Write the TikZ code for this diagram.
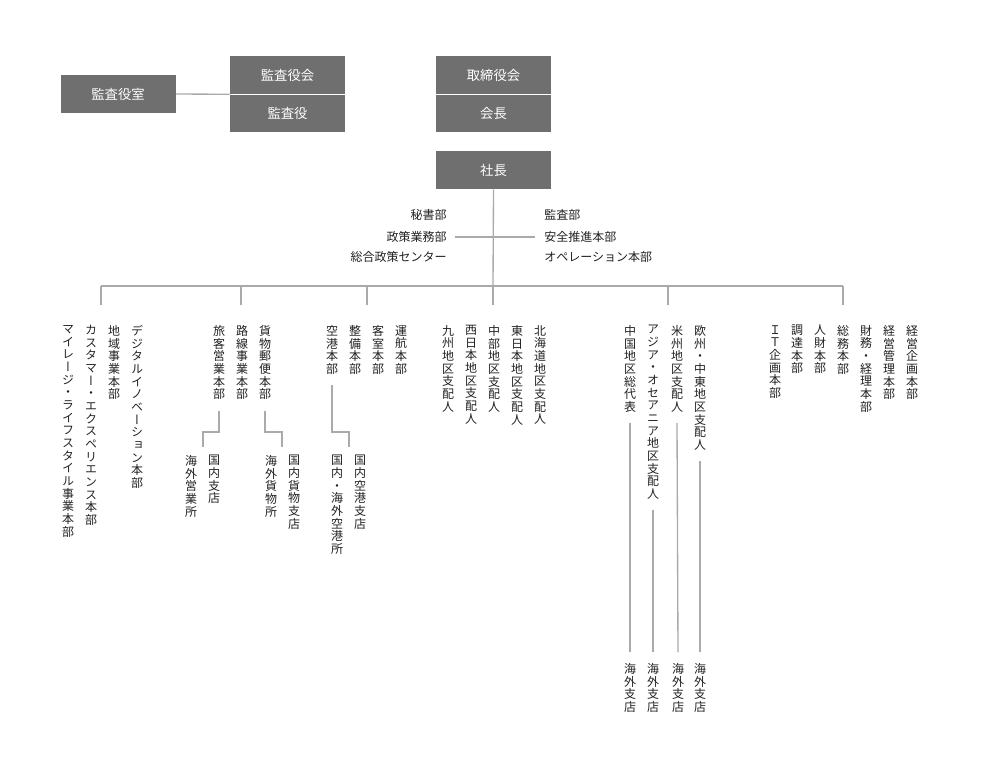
\documentclass[tikz,border=0pt]{standalone}
\usepackage{fontspec}
\newfontfamily\cjk{Noto Sans CJK JP}
\newfontfamily\cjkv{Noto Sans CJK JP}[RawFeature=+vert]
\def\vt#1{\vtA#1\vtend}
\def\vtA#1{\ifx#1\vtend\else#1\expandafter\vtB\fi}
\def\vtB#1{\ifx#1\vtend\else\\#1\expandafter\vtB\fi}
\definecolor{boxg}{HTML}{6F6F6F}
\definecolor{lineg}{HTML}{AAAAAA}
\definecolor{txt}{HTML}{222222}
\tikzset{
 gbox/.style={fill=boxg,text=white,minimum width=86.25pt,minimum height=28.5pt,inner sep=0pt,font=\cjk\fontsize{10}{12}\selectfont},
 vnode/.style={anchor=north,inner sep=0pt,align=center,text=txt,font=\cjkv\fontsize{9}{9.5}\selectfont},
 hl/.style={text=txt,inner sep=0pt,font=\cjk\fontsize{9}{10}\selectfont},
 conn/.style={draw=lineg,line width=1pt},
 sep/.style={draw=white,line width=0.8pt}
}
\begin{document}
\begin{tikzpicture}[x=0.75pt,y=-0.75pt]
\useasboundingbox (0,0) rectangle (988,772);
\fill[white] (0,0) rectangle (988,772);
% boxes
\node[gbox] (shitsu) at (118,94) {監査役室};
\node[gbox] (kansakai) at (287.5,75) {監査役会};
\node[gbox] (kansayaku) at (287.5,113) {監査役};
\node[gbox] (torishimari) at (493.5,75) {取締役会};
\node[gbox] (kaicho) at (493.5,113) {会長};
\node[gbox] (shacho) at (493.5,170) {社長};
\draw[sep] (kansakai.south west) -- (kansakai.south east);
\draw[sep] (torishimari.south west) -- (torishimari.south east);
\draw[conn] (shitsu.east) -- (kansakai.south west);
% staff
\coordinate (bus) at (493,286);
\draw[conn] (shacho.south) -- (bus);
\coordinate (sl) at (455,237); \coordinate (sr) at (535,237);
\draw[conn] (sl) -- (sr);
\node[hl,anchor=east] (hisho) at (447,215) {秘書部};
\node[hl,anchor=east] (seisaku) at (447,237) {政策業務部};
\node[hl,anchor=east] (sogo) at (447,257) {総合政策センター};
\node[hl,anchor=west] (kansabu) at (544,215) {監査部};
\node[hl,anchor=west] (anzen) at (544,237) {安全推進本部};
\node[hl,anchor=west] (ope) at (544,257) {オペレーション本部};
% bus
\coordinate (b1) at (101,286); \coordinate (b6) at (843,286);
\draw[conn] (b1) -- (b6);
\foreach \x/\n in {101/d1,241/d2,367/d3,493/d4,668/d5,843/d6}{
  \coordinate (\n) at (\x,305);
  \draw[conn] (\x,286) -- (\n);
}
% vertical texts
\def\ty{325}
\node[vnode] (v1) at (68,\ty) {\vt{マイレージ・ライフスタイル事業本部}};
\node[vnode] (v2) at (91,\ty) {\vt{カスタマー・エクスペリエンス本部}};
\node[vnode] (v3) at (114,\ty) {\vt{地域事業本部}};
\node[vnode] (v4) at (137,\ty) {\vt{デジタルイノベーション本部}};
\node[vnode] (ryokaku) at (219,\ty) {\vt{旅客営業本部}};
\node[vnode] (v6) at (242,\ty) {\vt{路線事業本部}};
\node[vnode] (kamotsu) at (265,\ty) {\vt{貨物郵便本部}};
\node[vnode] (kuko) at (332,\ty) {\vt{空港本部}};
\node[vnode] (v9) at (355,\ty) {\vt{整備本部}};
\node[vnode] (v10) at (378,\ty) {\vt{客室本部}};
\node[vnode] (v11) at (401,\ty) {\vt{運航本部}};
\node[vnode] (v12) at (448,\ty) {\vt{九州地区支配人}};
\node[vnode] (v13) at (471,\ty) {\vt{西日本地区支配人}};
\node[vnode] (v14) at (494,\ty) {\vt{中部地区支配人}};
\node[vnode] (v15) at (517,\ty) {\vt{東日本地区支配人}};
\node[vnode] (v16) at (540,\ty) {\vt{北海道地区支配人}};
\node[vnode] (chugoku) at (630,\ty) {\vt{中国地区総代表}};
\node[vnode] (asia) at (653,\ty) {\vt{アジア・オセアニア地区支配人}};
\node[vnode] (beishu) at (677,\ty) {\vt{米州地区支配人}};
\node[vnode] (oshu) at (700,\ty) {\vt{欧州・中東地区支配人}};
\node[vnode] (v21) at (775,\ty) {\vt{ＩＴ企画本部}};
\node[vnode] (v22) at (797,\ty) {\vt{調達本部}};
\node[vnode] (v23) at (820,\ty) {\vt{人財本部}};
\node[vnode] (v24) at (843,\ty) {\vt{総務本部}};
\node[vnode] (v25) at (866,\ty) {\vt{財務・経理本部}};
\node[vnode] (v26) at (889,\ty) {\vt{経営管理本部}};
\node[vnode] (v27) at (912,\ty) {\vt{経営企画本部}};
% sub units
\def\sy{455}
\node[vnode] (kokunai1) at (214,\sy) {\vt{国内支店}};
\node[vnode] (kaigai1) at (191,\sy) {\vt{海外営業所}};
\node[vnode] (kokunai2) at (294,\sy) {\vt{国内貨物支店}};
\node[vnode] (kaigai2) at (271,\sy) {\vt{海外貨物所}};
\node[vnode] (kokunai3) at (360,\sy) {\vt{国内空港支店}};
\node[vnode] (kaigai3) at (337,\sy) {\vt{国内・海外空港所}};
\draw[conn] ([yshift=-8pt]ryokaku.south) |- (203,432) -- (203,447);
\draw[conn] ([yshift=-8pt]kamotsu.south) |- (282,432) -- (282,447);
\draw[conn] ([yshift=-8pt]kuko.south) |- (349,432) -- (349,447);
% overseas branches
\foreach \x/\n in {630/s1,653/s2,678/s3,700/s4}{
  \node[vnode] (\n) at (\x,663) {\vt{海外支店}};
}
\draw[conn] ([yshift=-8pt]chugoku.south) -- ([yshift=8pt]s1.north);
\draw[conn] ([yshift=-8pt]asia.south) -- ([yshift=8pt]s2.north);
\draw[conn] ([yshift=-8pt]beishu.south) -- ([yshift=8pt]s3.north);
\draw[conn] ([yshift=-8pt]oshu.south) -- ([yshift=8pt]s4.north);
\end{tikzpicture}
\end{document}
